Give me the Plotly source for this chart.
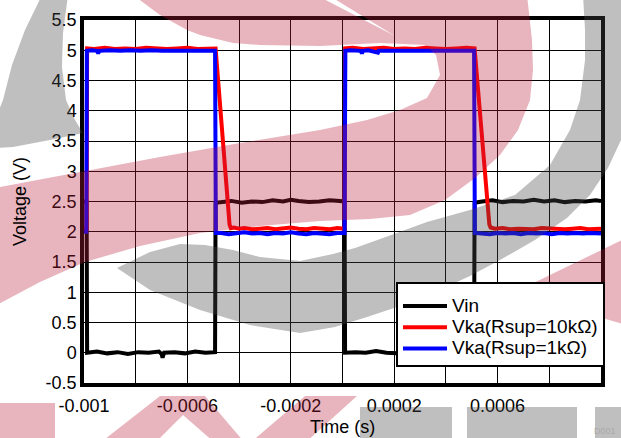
import numpy as np
import plotly.graph_objects as go

# ---------------- data (time in microseconds, voltage in V) ----------------
vin_time_us = [-1000, -990,
               -988, -950, -910, -870, -830, -790, -750, -710, -700, -696, -690, -650, -610, -570, -530, -493,
               -491, -470, -430, -390, -350, -310, -270, -230, -200, -170, -130, -90, -50, -10, 8,
               10, 50, 90, 130, 170, 210, 250, 290, 330, 370, 410, 450, 490, 509,
               511, 540, 580, 620, 660, 700, 740, 780, 820, 860, 900, 940, 980, 1000]
vin_volt = [2.5, 2.5,
            0.0, 0.02, -0.01, 0.01, -0.02, 0.01, 0.0, 0.02, -0.02, -0.08, 0.0, 0.01, -0.01, 0.02, 0.0, 0.01,
            2.48, 2.49, 2.51, 2.48, 2.5, 2.49, 2.52, 2.5, 2.53, 2.51, 2.49, 2.5, 2.52, 2.51, 2.5,
            0.0, 0.01, 0.0, 0.03, 0.0, -0.01, 0.01, 0.0, -0.01, 0.01, 0.0, 0.02, 0.0, 0.01,
            2.48, 2.5, 2.52, 2.49, 2.51, 2.5, 2.53, 2.5, 2.52, 2.49, 2.51, 2.5, 2.52, 2.51]

vka10k_time_us = [-1000, -990,
                  -988, -960, -920, -880, -840, -800, -760, -720, -680, -640, -600, -560, -520, -491,
                  -437, -432,
                  -420, -400, -380, -350, -320, -290, -260, -230, -200, -170, -140, -110, -80, -50, -20, 8,
                  10, 40, 80, 120, 160, 200, 240, 280, 320, 360, 400, 440, 480, 511,
                  568, 573,
                  590, 620, 650, 680, 710, 740, 770, 800, 830, 860, 890, 920, 950, 980, 1000]
vka10k_volt = [2.05, 2.05,
               5.03, 5.02, 5.04, 5.02, 5.03, 5.02, 5.04, 5.03, 5.02, 5.03, 5.04, 5.02, 5.03, 5.03,
               2.12, 2.06,
               2.07, 2.05, 2.06, 2.04, 2.05, 2.06, 2.04, 2.05, 2.07, 2.05, 2.04, 2.06, 2.05, 2.04, 2.06, 2.05,
               5.03, 5.04, 5.02, 5.03, 5.04, 5.02, 5.03, 5.02, 5.04, 5.03, 5.02, 5.03, 5.04, 5.03,
               2.12, 2.07,
               2.05, 2.06, 2.04, 2.05, 2.05, 2.04, 2.06, 2.05, 2.05, 2.04, 2.05, 2.06, 2.04, 2.05, 2.05]

vka1k_time_us = [-1000, -991,
                 -989, -970, -950, -945, -940, -900, -860, -820, -780, -740, -700, -660, -620, -580, -540, -493,
                 -490, -470, -440, -410, -380, -350, -320, -290, -260, -230, -200, -170, -140, -110, -80, -50, -20, 8,
                 11, 30, 70, 75, 80, 100, 137, 140, 180, 220, 260, 300, 340, 380, 420, 460, 509,
                 512, 540, 570, 600, 630, 660, 690, 720, 750, 780, 810, 840, 870, 900, 930, 960, 1000]
vka1k_volt = [2.0, 2.0,
              4.99, 5.0, 4.99, 4.95, 4.99, 5.0, 4.99, 5.0, 4.99, 5.0, 4.99, 4.99, 5.0, 4.99, 5.0, 4.99,
              1.98, 1.98, 1.96, 1.98, 1.99, 1.97, 1.98, 1.96, 1.98, 1.97, 1.99, 1.97, 1.96, 1.98, 1.97, 1.96, 1.98, 1.98,
              4.99, 5.0, 4.99, 4.95, 4.99, 5.0, 4.96, 4.99, 4.99, 4.99, 5.0, 4.99, 5.0, 4.99, 5.0, 4.99, 4.99,
              1.98, 1.97, 1.96, 1.98, 1.97, 1.98, 1.96, 1.98, 1.97, 1.98, 1.96, 1.98, 1.97, 1.98, 1.97, 1.98, 1.97]

series_names = ["Vin", "Vka(Rsup=10kΩ)", "Vka(Rsup=1kΩ)"]
series_colors = ["#000000", "#ff0000", "#0000ff"]

x_tick_vals = [-0.001, -0.0008, -0.0006, -0.0004, -0.0002, 0.0, 0.0002, 0.0004, 0.0006, 0.0008, 0.001]
x_tick_text = ["-0.001", "", "-0.0006", "", "-0.0002", "", "0.0002", "", "0.0006", "", "0.001"]
y_tick_vals = [-0.5, 0, 0.5, 1, 1.5, 2, 2.5, 3, 3.5, 4, 4.5, 5, 5.5]
y_tick_text = ["-0.5", "0", "0.5", "1", "1.5", "2", "2.5", "3", "3.5", "4", "4.5", "5", "5.5"]

# ---------------- figure ----------------
W, H = 621, 438
ML, MR, MT, MB = 84, 20, 20, 55
PW, PH = W - ML - MR, H - MT - MB

FONT = "Liberation Sans, Arial, sans-serif"

fig = go.Figure()
all_series = [
    (vin_time_us, vin_volt),
    (vka10k_time_us, vka10k_volt),
    (vka1k_time_us, vka1k_volt),
]
for (t_us, v), name, col in zip(all_series, series_names, series_colors):
    fig.add_trace(go.Scatter(
        x=np.array(t_us) * 1e-6, y=v, mode="lines",
        name=f'<span style="font-size:19px">{name}</span>',
        line=dict(color=col, width=4), showlegend=True,
    ))

# ---------------- background watermark (decoration) ----------------
def px_path(pts):
    segs = []
    for i, (x, y) in enumerate(pts):
        xp = (x - ML) / PW
        yp = (H - MB - y) / PH
        segs.append(("M" if i == 0 else "L") + f"{xp:.4f},{yp:.4f}")
    return " ".join(segs) + " Z"

PINK = "rgba(185,31,62,0.33)"
GREY = "rgba(72,72,72,0.35)"

wm_pink = [
    # big S shape
    [(133, -5), (316, -5), (395, 36), (328, -5), (527, -5), (532, 40), (533, 70), (530, 100), (518, 130),
     (500, 155), (475, 178), (445, 200), (410, 215), (370, 219), (320, 221), (260, 226), (200, 233),
     (140, 246), (85, 262), (40, 282), (-5, 306), (-5, 188), (80, 172), (160, 157), (240, 143),
     (320, 130), (367, 120), (400, 110), (427, 98), (440, 75), (436, 55), (425, 45), (380, 43),
     (320, 46), (260, 45), (233, 43), (200, 35), (187, 30), (160, 15)],
    # right wedge
    [(515, 292), (626, 238), (626, 325)],
    # bottom letters
    [(-5, 403), (55, 403), (55, 443), (-5, 443)],
    [(100, 443), (160, 396), (205, 396), (245, 443), (215, 443), (183, 415), (155, 443)],
    [(250, 443), (305, 396), (357, 396), (305, 443)],
]
wm_grey = [
    # left arc
    [(42, -5), (25, 30), (12, 65), (3, 100), (-5, 120), (-5, 148), (13, 147), (50, 140), (83, 133),
     (75, 120), (66, 100), (62, 67), (63, 33), (68, -5)],
    # crescent + right arc
    [(583, -5), (585, 30), (585, 60), (580, 100), (570, 130), (550, 165), (515, 195), (470, 210),
     (427, 222), (383, 238), (355, 248), (333, 254), (300, 261), (260, 257), (233, 250), (205, 245),
     (180, 244), (150, 252), (117, 268), (150, 290), (200, 310), (250, 325), (300, 333), (335, 327),
     (367, 317), (400, 306), (433, 293), (470, 276), (500, 260), (535, 240), (567, 218), (590, 195),
     (608, 168), (621, 140), (626, 110), (626, -5)],
    # bottom blocks
    [(360, 407), (452, 407), (452, 443), (360, 443)],
    [(467, 407), (577, 407), (577, 443), (467, 443)],
    [(595, 407), (626, 407), (626, 443), (595, 443)],
]
shapes = []
for poly in wm_grey:
    shapes.append(dict(type="path", path=px_path(poly), xref="paper", yref="paper",
                       fillcolor=GREY, line=dict(width=0), layer="above"))
for poly in wm_pink:
    shapes.append(dict(type="path", path=px_path(poly), xref="paper", yref="paper",
                       fillcolor=PINK, line=dict(width=0), layer="above"))

axis_common = dict(
    showgrid=True, gridcolor="#000000", gridwidth=1.2,
    showline=True, linecolor="#000000", linewidth=3.5, mirror=True,
    zeroline=False, ticks="", automargin=False,
    tickfont=dict(family=FONT, size=18, color="#000000"),
)

fig.update_layout(
    width=W, height=H,
    margin=dict(l=ML, r=MR, t=MT, b=MB, pad=0),
    paper_bgcolor="white", plot_bgcolor="white",
    font=dict(family=FONT, size=18, color="#000000"),
    xaxis=dict(range=[-0.001, 0.001], tickmode="array", tickvals=x_tick_vals, ticktext=x_tick_text,
               ticklabelstandoff=4, **axis_common),
    yaxis=dict(range=[-0.5, 5.5], tickmode="array", tickvals=y_tick_vals, ticktext=y_tick_text,
               ticklabelstandoff=0, **axis_common),
    legend=dict(
        x=(396 - ML) / PW, y=(H - MB - 282) / PH, xanchor="left", yanchor="top",
        bgcolor="white", bordercolor="#000000", borderwidth=2,
        font=dict(family=FONT, size=14, color="#000000"),
        title=dict(text=" ", font=dict(size=5)),
        tracegroupgap=0, itemwidth=44,
    ),
    shapes=shapes,
    annotations=[
        dict(text="Time (s)", xref="paper", yref="paper", x=(342 - ML) / PW, y=(H - MB - 427) / PH,
             xanchor="center", yanchor="middle", showarrow=False,
             font=dict(family=FONT, size=18, color="#000000")),
        dict(text="Voltage (V)", xref="paper", yref="paper", x=(20 - ML) / PW, y=(H - MB - 202) / PH,
             xanchor="center", yanchor="middle", showarrow=False, textangle=-90,
             font=dict(family=FONT, size=18, color="#000000")),
        dict(text="D001", xref="paper", yref="paper", x=(618 - ML) / PW, y=(H - MB - 431) / PH,
             xanchor="right", yanchor="middle", showarrow=False,
             font=dict(family=FONT, size=9, color="#aaaaaa")),
    ],
)

fig.write_html("out.html", config={"displayModeBar": False},
               post_script="document.body.style.margin='0px';")
